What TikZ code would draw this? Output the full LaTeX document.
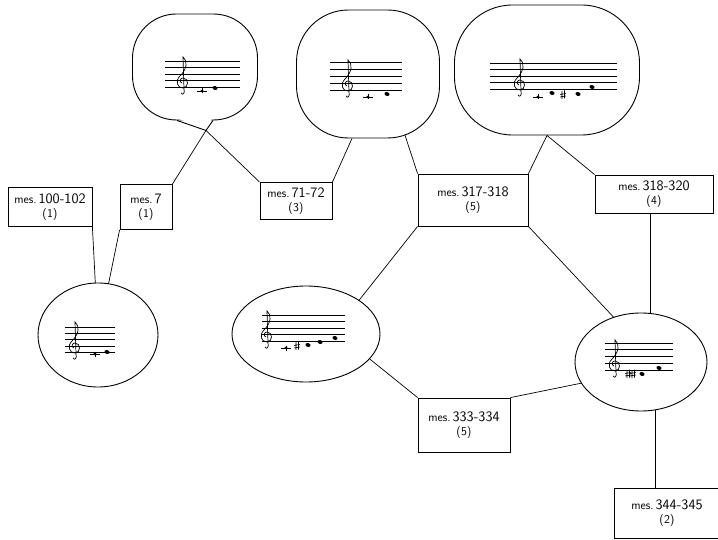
\documentclass[tikz,border=0pt]{standalone}
\usetikzlibrary{calc, backgrounds, shapes.geometric}

\newcommand{\musicstaff}[4]{%
  \foreach \k in {0,...,4}
    \draw[staffline] (#1,{#3+\k*#4}) -- (#2,{#3+\k*#4});}

\begin{document}
\begin{tikzpicture}[
    x=1pt, y=-1pt,
    blob/.style={rectangle, draw, fill=white, line width=0.9pt, rounded corners=52pt},
    roundblob/.style={ellipse, draw, fill=white, line width=0.9pt, inner sep=0pt},
    mesbox/.style={rectangle, draw, fill=white, line width=0.8pt, align=center, font=\sffamily\large, inner sep=1pt},
    link/.style={line width=0.7pt},
    staffline/.style={line width=0.6pt},
    gclef/.pic={\draw[line width=0.7pt] (-2,6) .. controls (0,9) and (2,6) .. (1,2) -- (0,-30)
        .. controls (5,-26) and (4,-18) .. (-3,-11) .. controls (-8,-6) and (-6,1) .. (0,1)
        .. controls (6,1) and (6,-9) .. (0,-9) .. controls (-3,-9) and (-4,-5) .. (-1,-4);},
    ledgernote/.pic={\draw[line width=0.7pt] (-5,0) -- (5,0) (0,-2.5) -- (0,2.5);
        \fill (0,0) ellipse (1.8 and 1.4);},
    notehead/.pic={\fill[rotate=-20] (0,0) ellipse (2.6 and 1.9);},
    sharp/.pic={\draw[line width=0.6pt] (-1,-4) -- (-1,4) (1.5,-4.5) -- (1.5,3.5)
        (-3,-0.5) -- (3,-1.5) (-3,2) -- (3,1);}
]
\useasboundingbox (0,0) rectangle (718,540);

% themes (blobs)
\node[blob, minimum width=125, minimum height=106, rounded corners=44pt] (b1) at (195,67) {};
\node[blob, minimum width=143, minimum height=128] (b2) at (368,74) {};
\node[blob, minimum width=185, minimum height=130, rounded corners=58pt] (b3) at (547,70) {};
\node[roundblob, minimum width=120, minimum height=104] (b4) at (98,335) {};
\node[roundblob, minimum width=148, minimum height=96] (b5) at (306,334) {};
\node[roundblob, minimum width=132, minimum height=98] (b6) at (641,362) {};

% pointed bottom of the first blob
\coordinate (t1) at ($(b1.south)+(11,10)$);
\fill[white] ($(b1.south)+(-17,-2)$) -- (t1) -- ($(b1.south)+(17,-2)$) -- cycle;
\draw[line width=0.9pt] ($(b1.south)+(-18,0)$) -- (t1) -- ($(b1.south)+(18,0)$);

% measure boxes
\node[mesbox, minimum width=84, minimum height=39] (A) at (50,207) {mes.\,{\Large 100-102}\\(1)};
\node[mesbox, minimum width=52, minimum height=45] (B) at (146,207) {mes.\,{\Large 7}\\(1)};
\node[mesbox, minimum width=72, minimum height=37] (C) at (296,201) {mes.\,{\Large 71-72}\\(3)};
\node[mesbox, minimum width=110, minimum height=52] (D) at (473,200) {mes.\,{\Large 317-318}\\(5)};
\node[mesbox, minimum width=118, minimum height=38] (E) at (654,194) {mes.\,{\Large 318-320}\\(4)};
\node[mesbox, minimum width=92, minimum height=54] (F) at (464,425) {mes.\,{\Large 333-334}\\(5)};
\node[mesbox, minimum width=106, minimum height=50] (G) at (667,513) {mes.\,{\Large 344-345}\\(2)};

% staves
\musicstaff{165}{240}{61}{6.5}
\pic at (183,87) {gclef};
\pic at (202,91) {ledgernote};
\pic at (215,88) {notehead};

\musicstaff{330}{402}{62}{7}
\pic at (348,90) {gclef};
\pic at (368,97) {ledgernote};
\pic at (387,94) {notehead};

\musicstaff{490}{617}{63}{6.5}
\pic at (520,89) {gclef};
\pic at (538,97) {ledgernote};
\pic at (552,93) {notehead};
\pic at (563,95) {sharp};
\pic at (578,94) {notehead};
\pic at (592,87) {notehead};

\musicstaff{65}{115}{327}{6.3}
\pic at (75,352) {gclef};
\pic at (95,354) {ledgernote};
\pic at (107,352) {notehead};

\musicstaff{262}{345}{315}{6.5}
\pic at (267,341) {gclef};
\pic at (286,348) {ledgernote};
\pic at (297,346) {sharp};
\pic at (308,345) {notehead};
\pic at (320,342) {notehead};
\pic at (335,338) {notehead};

\musicstaff{605}{673}{343}{6.7}
\pic at (615,370) {gclef};
\pic at (628,374) {sharp};
\pic at (633,374) {sharp};
\pic at (642,374) {notehead};
\pic at (659,368) {notehead};

% connectors
\begin{scope}[on background layer]
    \draw[link] (t1) -- (B.north east);
    \draw[link] (t1) -- (C.north west);
    \draw[link] ($(b2.south)+(-16,0)$) -- (C.north east);
    \draw[link] (D.north west) -- ($(b2.center)+(30,40)$);
    \draw[link] (b3.south) -- (D.north east);
    \draw[link] (b3.south) -- (E.north west);
    \draw[link] (A.south east) -- (b4.center);
    \draw[link] (B.south west) -- (b4.center);
    \draw[link] (D.south west) -- ($(b5.center)+(39,-16)$);
    \draw[link] (F.north west) -- ($(b5.center)+(34,1)$);
    \draw[link] (D.south east) -- ($(b6.center)+(-6,-22)$);
    \draw[link] ($(E.south)+(-4,0)$) -- ($(b6.center)+(9,0)$);
    \draw[link] (F.north east) -- ($(b6.center)+(0,9)$);
    \draw[link] ($(b6.center)+(14,0)$) -- ($(G.north)+(-12,0)$);
\end{scope}
\end{tikzpicture}
\end{document}
